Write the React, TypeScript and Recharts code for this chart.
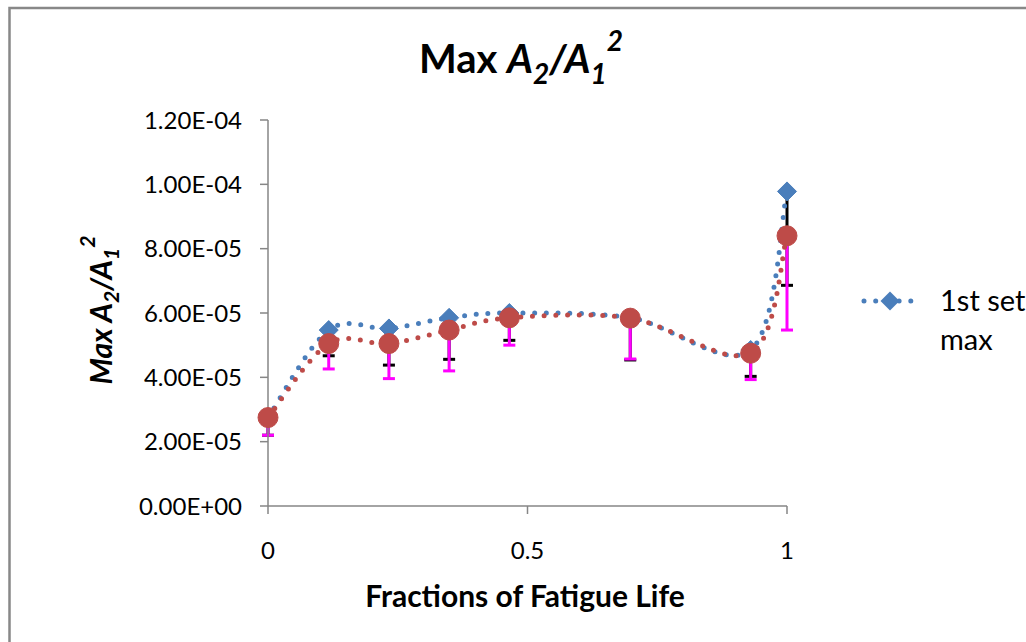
import React from "react";
import { LineChart, Line, XAxis, YAxis, ErrorBar } from "recharts";

// ---- data ----
const fractions = [0, 0.117, 0.233, 0.349, 0.465, 0.698, 0.93, 1.0];
const set1Max = [2.75e-5, 5.47e-5, 5.52e-5, 5.85e-5, 6.0e-5, 5.85e-5, 4.85e-5, 9.78e-5];
const set1MaxLow = [2.2e-5, 4.67e-5, 4.38e-5, 4.56e-5, 5.15e-5, 4.54e-5, 4.03e-5, 6.86e-5];
const set1Avg = [2.75e-5, 5.05e-5, 5.05e-5, 5.47e-5, 5.85e-5, 5.84e-5, 4.75e-5, 8.4e-5];
const set1AvgLow = [2.2e-5, 4.26e-5, 3.96e-5, 4.2e-5, 5.0e-5, 4.57e-5, 3.93e-5, 5.47e-5];
const xTicks = [0, 0.5, 1];
const yTicks = [0, 2e-5, 4e-5, 6e-5, 8e-5, 1e-4, 1.2e-4];

const data = fractions.map((x, i) => ({
  x,
  max: set1Max[i],
  maxErr: [set1Max[i] - set1MaxLow[i], 0],
  avg: set1Avg[i],
  avgErr: [set1Avg[i] - set1AvgLow[i], 0],
}));

const BLUE = "#4A7EBB";
const RED = "#BE4B48";
const AXIS = "#868686";
const FONT = "Lato, 'Open Sans', sans-serif";

const fmtExp = (v: number) => {
  const s = v.toExponential(2); // e.g. 1.20e-4
  const [m, e] = s.split("e");
  const sign = e[0] === "-" ? "-" : "+";
  const digits = e.replace(/[+-]/, "").padStart(2, "0");
  return `${m}E${sign}${digits}`;
};

// Excel-like smoothed line (Catmull-Rom style Bezier)
const excelSmooth: any = (context: any) => {
  let pts: [number, number][] = [];
  return {
    areaStart() {},
    areaEnd() {},
    lineStart() {
      pts = [];
    },
    lineEnd() {
      if (!pts.length) return;
      context.moveTo(pts[0][0], pts[0][1]);
      for (let i = 0; i < pts.length - 1; i++) {
        const p0 = pts[Math.max(i - 1, 0)];
        const p1 = pts[i];
        const p2 = pts[i + 1];
        const p3 = pts[Math.min(i + 2, pts.length - 1)];
        context.bezierCurveTo(
          p1[0] + (p2[0] - p0[0]) / 6,
          p1[1] + (p2[1] - p0[1]) / 6,
          p2[0] - (p3[0] - p1[0]) / 6,
          p2[1] - (p3[1] - p1[1]) / 6,
          p2[0],
          p2[1]
        );
      }
    },
    point(x: number, y: number) {
      pts.push([+x, +y]);
    },
  };
};

const Diamond = (props: any) => {
  const { cx, cy, index } = props;
  if (cx == null || cy == null) return <g key={`d${index}`} />;
  const h = 9.5;
  return (
    <path
      key={`d${index}`}
      d={`M${cx},${cy - h}L${cx + h},${cy}L${cx},${cy + h}L${cx - h},${cy}Z`}
      fill={BLUE}
      stroke={BLUE}
      strokeWidth={1}
    />
  );
};

const Circle = (props: any) => {
  const { cx, cy, index } = props;
  if (cx == null || cy == null) return <g key={`c${index}`} />;
  return <circle key={`c${index}`} cx={cx} cy={cy} r={10} fill={RED} stroke={RED} strokeWidth={1} />;
};

export default function App() {
  return (
    <div
      style={{
        position: "absolute",
        left: 0,
        top: 0,
        width: 1026,
        height: 642,
        overflow: "hidden",
        background: "#fff",
      }}
    >
      <LineChart
        width={1026}
        height={642}
        data={data}
        margin={{ top: 120, right: 239, bottom: 0, left: 0 }}
      >
        <XAxis
          type="number"
          dataKey="x"
          domain={[0, 1]}
          ticks={xTicks}
          height={136}
          tickSize={8}
          tickMargin={28}
          stroke={AXIS}
          strokeWidth={1.5}
          tick={{ fill: "#000", fontSize: 24, fontFamily: FONT }}
          tickFormatter={(v: number) => String(v)}
        />
        <YAxis
          type="number"
          domain={[0, 1.2e-4]}
          ticks={yTicks}
          width={268}
          tickSize={8}
          tickMargin={18}
          stroke={AXIS}
          strokeWidth={1.5}
          tick={{ fill: "#000", fontSize: 24, fontFamily: FONT }}
          tickFormatter={fmtExp}
          interval={0}
        />
        {/* error bars drawn first so the markers sit on top */}
        <Line
          dataKey="max"
          stroke="none"
          dot={false}
          activeDot={false}
          legendType="none"
          isAnimationActive={false}
        >
          <ErrorBar dataKey="maxErr" direction="y" width={6} stroke="#000" strokeWidth={3} />
        </Line>
        <Line
          dataKey="avg"
          stroke="none"
          dot={false}
          activeDot={false}
          legendType="none"
          isAnimationActive={false}
        >
          <ErrorBar dataKey="avgErr" direction="y" width={6} stroke="#FF00FF" strokeWidth={3} />
        </Line>
        <Line
          dataKey="max"
          name="1st set max"
          type={excelSmooth}
          stroke={BLUE}
          strokeWidth={5}
          strokeDasharray="0 11.7"
          strokeLinecap="round"
          dot={Diamond}
          activeDot={false}
          isAnimationActive={false}
        />
        <Line
          dataKey="avg"
          name="1st set"
          type={excelSmooth}
          stroke={RED}
          strokeWidth={5}
          strokeDasharray="0 11.7"
          strokeLinecap="round"
          dot={Circle}
          activeDot={false}
          legendType="none"
          isAnimationActive={false}
        />
      </LineChart>

      <svg
        width={1026}
        height={642}
        style={{ position: "absolute", left: 0, top: 0, pointerEvents: "none" }}
      >
        {/* chart border */}
        <path d="M9.5,642 L9.5,8 L1026,8" fill="none" stroke="#888" strokeWidth={2.5} />

        {/* title */}
        <text x={521} y={73} textAnchor="middle" fontFamily={FONT} fontWeight="bold" fontSize={40} fill="#000">
          <tspan>Max </tspan>
          <tspan fontStyle="italic">A</tspan>
          <tspan fontStyle="italic" fontSize={28} dy={11}>2</tspan>
          <tspan fontStyle="italic" dy={-11}>/A</tspan>
          <tspan fontStyle="italic" fontSize={28} dy={11}>1</tspan>
          <tspan fontStyle="italic" fontSize={28} dy={-33}>2</tspan>
        </text>

        {/* y axis title */}
        <g transform="translate(112,310) rotate(-90)">
          <text x={0} y={0} textAnchor="middle" fontFamily={FONT} fontWeight="bold" fontStyle="italic" fontSize={30} fill="#000">
            <tspan>Max A</tspan>
            <tspan fontSize={21} dy={7}>2</tspan>
            <tspan dy={-7}>/A</tspan>
            <tspan fontSize={21} dy={7}>1</tspan>
            <tspan fontSize={21} dy={-24}>2</tspan>
          </text>
        </g>

        {/* x axis title */}
        <text x={525} y={607} textAnchor="middle" fontFamily={FONT} fontWeight="bold" fontSize={30} fill="#000">
          Fractions of Fatigue Life
        </text>

        {/* legend */}
        <line x1={864} y1={301} x2={920} y2={301} stroke={BLUE} strokeWidth={5} strokeDasharray="0 11.7" strokeLinecap="round" />
        <path d="M890,291.5L899.5,301L890,310.5L880.5,301Z" fill={BLUE} />
        <text x={940} y={311} fontFamily={FONT} fontSize={29} fill="#000">1st set</text>
        <text x={940} y={350} fontFamily={FONT} fontSize={29} fill="#000">max</text>
      </svg>
    </div>
  );
}
